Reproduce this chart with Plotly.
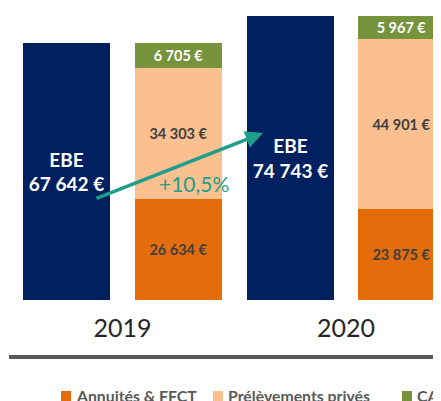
import plotly.graph_objects as go

years = ["2019", "2020"]
ebe = [67642, 74743]
annuites = [26634, 23875]
prelevements = [34303, 44901]
caf = [6705, 5967]
legend_names = ["Annuités & FFCT", "Prélèvements privés", "CAF nette"]

NAVY = "#002060"
ORANGE = "#E46C0A"
PEACH = "#FAC090"
GREEN = "#77933C"
TEAL = "#1F9E8C"
FONT = "Lato"

def eur(v):
    return f"{v:,}".replace(",", " ") + " €"

W, H = 441, 401
OFF = 8  # page body margin offset
x_ebe = [0, 2]
x_stack = [1, 3]
bw = 0.778
UNIT = 111.8
C0 = 66.5 - OFF          # pixel centre of first bar in figure coords
ZERO = 300 - OFF         # pixel of y=0 in figure coords
PX_PER_EUR = 257 / ebe[0]

fig = go.Figure()
fig.add_trace(go.Bar(
    x=x_ebe, y=ebe, width=bw, marker=dict(color=NAVY, line=dict(width=0)),
    text=[f"<b>EBE<br>{eur(v)}</b>" for v in ebe], textposition="inside",
    insidetextanchor="middle", textangle=0,
    textfont=dict(family=FONT, size=19, color="white"), showlegend=False,
))
for vals, col, tcol, name in [
    (annuites, ORANGE, "#404040", legend_names[0]),
    (prelevements, PEACH, "#404040", legend_names[1]),
    (caf, GREEN, "white", legend_names[2]),
]:
    fig.add_trace(go.Bar(
        x=x_stack, y=vals, width=bw, name=name,
        marker=dict(color=col, line=dict(width=0)),
        text=[f"<b>{eur(v)}</b>" for v in vals], textposition="inside",
        insidetextanchor="middle", textangle=0,
        textfont=dict(family=FONT, size=14.5, color=tcol), showlegend=False,
    ))

pct = (ebe[1] / ebe[0] - 1) * 100
pct_txt = ("+" + f"{pct:.1f}".replace(".", ",") + "%")

ymax = ZERO / PX_PER_EUR
x0 = -C0 / UNIT
x1 = (W - C0) / UNIT

def dx(px):
    return (px - OFF - C0) / UNIT

def dy(py):
    return (300 - py) / PX_PER_EUR

fig.add_annotation(
    x=dx(263), y=dy(133), ax=dx(95), ay=dy(199),
    xref="x", yref="y", axref="x", ayref="y", text="",
    showarrow=True, arrowhead=2, arrowsize=1, arrowwidth=3.5, arrowcolor=TEAL,
)
fig.add_annotation(
    x=dx(194), y=dy(183), xref="x", yref="y", text=pct_txt, showarrow=False,
    font=dict(family=FONT, size=21, color=TEAL),
)

def py_paper(py):
    return (H - (py - OFF)) / H

def px_paper(px):
    return (px - OFF) / W

# axis baseline
fig.add_shape(type="line", xref="paper", yref="paper", x0=px_paper(9), x1=1,
              y0=py_paper(357), y1=py_paper(357), line=dict(color="#595959", width=4))

# manual legend (clipped at right edge like the reference)
leg_x = [61, 213, 402]
for lx, name, col in zip(leg_x, legend_names, [ORANGE, PEACH, GREEN]):
    fig.add_shape(type="rect", xref="paper", yref="paper",
                  x0=px_paper(lx), x1=px_paper(lx + 10), y0=py_paper(401), y1=py_paper(391),
                  fillcolor=col, line=dict(width=0))
    fig.add_annotation(x=px_paper(lx + 13), y=py_paper(395), xref="paper", yref="paper",
                       xanchor="left", yanchor="middle", showarrow=False,
                       text=f"<b>{name}</b>",
                       font=dict(family=FONT, size=15.8, color="#595959"))

fig.update_layout(
    width=W, height=H, margin=dict(l=0, r=0, t=0, b=0),
    paper_bgcolor="white", plot_bgcolor="white",
    barmode="stack", bargap=0,
    xaxis=dict(range=[x0, x1], tickvals=[0.5, 2.5], ticktext=years,
               showgrid=False, zeroline=False, showline=False,
               ticks="outside", ticklen=6, tickcolor="rgba(0,0,0,0)",
               tickfont=dict(family=FONT, size=25, color="#262626")),
    yaxis=dict(range=[0, ymax], domain=[(H - ZERO) / H, 1], visible=False),
    uniformtext=dict(mode=False),
)

fig.write_html("out.html")
